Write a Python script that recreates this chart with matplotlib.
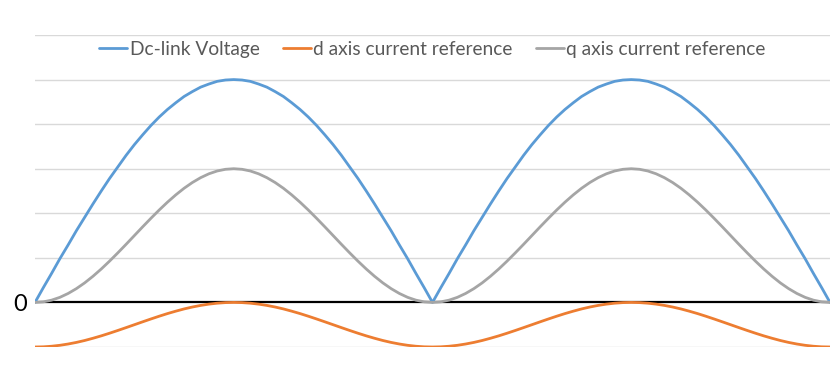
import matplotlib.pyplot as plt
import numpy as np

# samples every 1/48 of a half-cycle (grid units)
dc_link = [0, 0.33, 0.65, 0.98, 1.29, 1.61, 1.91, 2.21, 2.5, 2.78, 3.04, 3.3, 3.54, 3.76, 3.97, 4.16, 4.33, 4.48, 4.62, 4.73, 4.83, 4.9, 4.96, 4.99, 5.0,
           4.99, 4.96, 4.9, 4.83, 4.73, 4.62, 4.48, 4.33, 4.16, 3.97, 3.76, 3.54, 3.3, 3.04, 2.78, 2.5, 2.21, 1.91, 1.61, 1.29, 0.98, 0.65, 0.33, 0,
           0.33, 0.65, 0.98, 1.29, 1.61, 1.91, 2.21, 2.5, 2.78, 3.04, 3.3, 3.54, 3.76, 3.97, 4.16, 4.33, 4.48, 4.62, 4.73, 4.83, 4.9, 4.96, 4.99, 5.0,
           4.99, 4.96, 4.9, 4.83, 4.73, 4.62, 4.48, 4.33, 4.16, 3.97, 3.76, 3.54, 3.3, 3.04, 2.78, 2.5, 2.21, 1.91, 1.61, 1.29, 0.98, 0.65, 0.33, 0]
d_ref = [-1, -0.996, -0.983, -0.962, -0.933, -0.897, -0.854, -0.804, -0.75, -0.691, -0.629, -0.565, -0.5, -0.435, -0.371, -0.309, -0.25, -0.196, -0.146, -0.103, -0.067, -0.038, -0.017, -0.004, 0,
         -0.004, -0.017, -0.038, -0.067, -0.103, -0.146, -0.196, -0.25, -0.309, -0.371, -0.435, -0.5, -0.565, -0.629, -0.691, -0.75, -0.804, -0.854, -0.897, -0.933, -0.962, -0.983, -0.996, -1,
         -0.996, -0.983, -0.962, -0.933, -0.897, -0.854, -0.804, -0.75, -0.691, -0.629, -0.565, -0.5, -0.435, -0.371, -0.309, -0.25, -0.196, -0.146, -0.103, -0.067, -0.038, -0.017, -0.004, 0,
         -0.004, -0.017, -0.038, -0.067, -0.103, -0.146, -0.196, -0.25, -0.309, -0.371, -0.435, -0.5, -0.565, -0.629, -0.691, -0.75, -0.804, -0.854, -0.897, -0.933, -0.962, -0.983, -0.996, -1]
q_ref = [0, 0.013, 0.051, 0.114, 0.201, 0.31, 0.439, 0.587, 0.75, 0.926, 1.112, 1.304, 1.5, 1.696, 1.888, 2.074, 2.25, 2.413, 2.561, 2.69, 2.799, 2.886, 2.949, 2.987, 3.0,
         2.987, 2.949, 2.886, 2.799, 2.69, 2.561, 2.413, 2.25, 2.074, 1.888, 1.696, 1.5, 1.304, 1.112, 0.926, 0.75, 0.587, 0.439, 0.31, 0.201, 0.114, 0.051, 0.013, 0,
         0.013, 0.051, 0.114, 0.201, 0.31, 0.439, 0.587, 0.75, 0.926, 1.112, 1.304, 1.5, 1.696, 1.888, 2.074, 2.25, 2.413, 2.561, 2.69, 2.799, 2.886, 2.949, 2.987, 3.0,
         2.987, 2.949, 2.886, 2.799, 2.69, 2.561, 2.413, 2.25, 2.074, 1.888, 1.696, 1.5, 1.304, 1.112, 0.926, 0.75, 0.587, 0.439, 0.31, 0.201, 0.114, 0.051, 0.013, 0]
labels = ["Dc-link Voltage", "d axis current reference", "q axis current reference"]
colors = ["#5B9BD5", "#ED7D31", "#A5A5A5"]

plt.rcParams['font.family'] = ['Lato', 'DejaVu Sans']

fig = plt.figure(figsize=(8.34, 3.76), dpi=100)
ax = fig.add_axes([35 / 834, 29 / 376, 795 / 834, 312 / 376])

x = np.arange(len(dc_link))
for v in range(-1, 7):
    if v != 0:
        ax.axhline(v, color="#d9d9d9", lw=1.0, zorder=0)
ax.axhline(0, color="black", lw=1.6, zorder=1)

for series, lab, c in zip([dc_link, d_ref, q_ref], labels, colors):
    ax.plot(x, series, color=c, lw=2.0, label=lab, zorder=2, solid_capstyle="round")

ax.set_xlim(0, len(dc_link) - 1)
ax.set_ylim(-1, 6)
ax.set_xticks([])
ax.set_yticks([0])
ax.set_yticklabels(["0"], fontsize=17)
ax.tick_params(axis="y", length=0, pad=6)
for s in ax.spines.values():
    s.set_visible(False)

leg = ax.legend(loc="center", bbox_to_anchor=(0.5, 0.955), ncol=3, frameon=False,
                fontsize=13.8, handlelength=1.45, handletextpad=0.15, columnspacing=1.2,
                borderaxespad=0)
for t in leg.get_texts():
    t.set_color("#595959")

fig.savefig("out.png", dpi=100)
